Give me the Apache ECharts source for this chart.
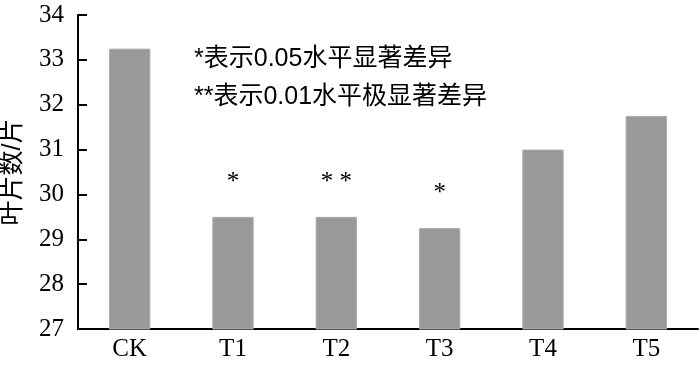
<!DOCTYPE html>
<html><head><meta charset="utf-8">
<script src="https://cdn.jsdelivr.net/npm/echarts@6/dist/echarts.min.js"></script>
<style>html,body{margin:0;padding:0;background:#fff}#c{width:700px;height:367px}</style>
</head><body><div id="c"></div>
<script>
const categories = ['CK','T1','T2','T3','T4','T5'];
const values = [33.25, 29.5, 29.5, 29.25, 31.0, 31.75];
const marks = ['', '*', '* *', '*', '', ''];
const yTicks = [27, 28, 29, 30, 31, 32, 33, 34];
const noteLines = ['*表示0.05水平显著差异', '**表示0.01水平极显著差异'];
const yName = '叶片数/片';

const serif = 'Liberation Serif';
const cjk = 'Liberation Sans, Noto Sans CJK SC, sans-serif';
const chart = echarts.init(document.getElementById('c'));
chart.setOption({
  animation: false,
  grid: {left: 78, right: 2, top: 15, bottom: 38, containLabel: false, outerBoundsMode: 'none'},
  xAxis: {
    type: 'category', data: categories,
    axisLine: {lineStyle: {color: '#000', width: 2}},
    axisTick: {inside: true, length: 9, lineStyle: {color: '#000', width: 2}},
    axisLabel: {color: '#000', fontFamily: serif, fontSize: 25, margin: 8}
  },
  yAxis: {
    type: 'value', min: yTicks[0], max: yTicks[yTicks.length-1], interval: 1,
    name: yName, nameLocation: 'middle', nameGap: 52,
    nameTextStyle: {color: '#000', fontFamily: cjk, fontSize: 25},
    axisLine: {show: true, lineStyle: {color: '#000', width: 2}},
    axisTick: {show: true, inside: true, length: 9, lineStyle: {color: '#000', width: 2}},
    splitLine: {show: false},
    axisLabel: {color: '#000', fontFamily: serif, fontSize: 25, margin: 14}
  },
  series: [{
    type: 'bar', data: values, barWidth: '40%',
    itemStyle: {color: '#999999', borderColor: '#ababab', borderWidth: 1},
    label: {show: true, position: 'top', distance: 22,
      formatter: p => marks[p.dataIndex],
      color: '#000', fontFamily: serif, fontSize: 25}
  }],
  graphic: noteLines.map((t, i) => ({
    type: 'text', left: 194, top: 47 + i * 38,
    style: {text: t, fill: '#000', fontSize: 25, fontFamily: cjk}
  }))
});
</script></body></html>
